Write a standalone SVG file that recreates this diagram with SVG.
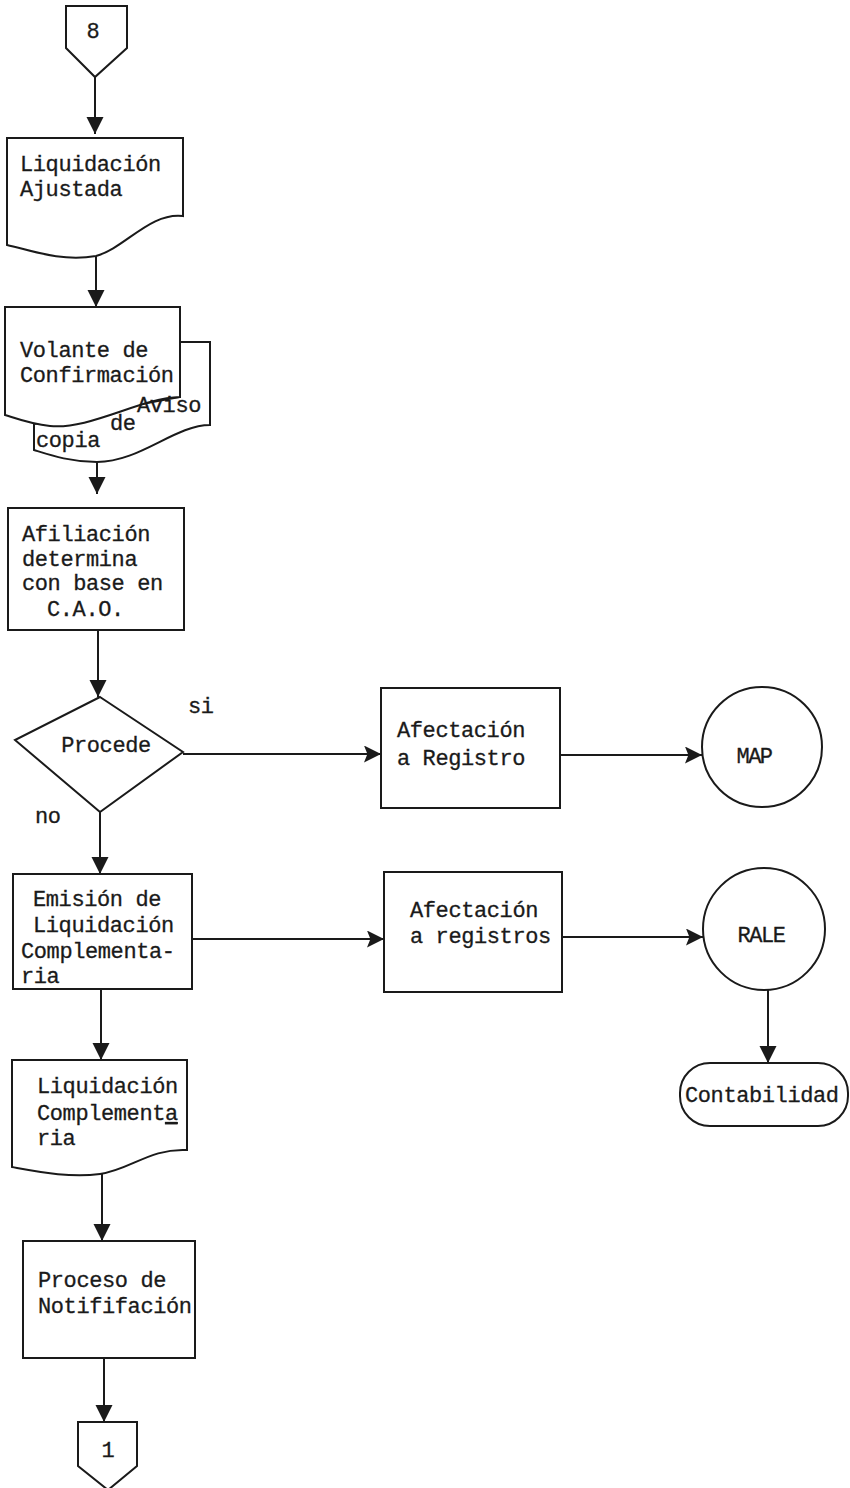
<svg xmlns="http://www.w3.org/2000/svg" width="850" height="1488" viewBox="0 0 850 1488">
<defs>
<style>
.s{fill:#fff;stroke:#1a1a1a;stroke-width:2}
.c{fill:none;stroke:#1a1a1a;stroke-width:2}
text{font-family:"Liberation Mono","DejaVu Sans Mono",monospace;font-size:22px;letter-spacing:-0.4px;fill:#1a1a1a;stroke:#1a1a1a;stroke-width:0.3}
.m{text-anchor:middle}
.k{letter-spacing:-1.5px}
</style>
<marker id="ah" viewBox="0 0 10 10" refX="10" refY="5" markerWidth="17" markerHeight="20" markerUnits="userSpaceOnUse" orient="auto">
<path d="M0,0 L10,5 L0,10 z" fill="#1a1a1a"/>
</marker>
<marker id="ahh" viewBox="0 0 10 10" refX="10" refY="5" markerWidth="18" markerHeight="17" markerUnits="userSpaceOnUse" orient="auto">
<path d="M0,0 L10,5 L0,10 L2,5 z" fill="#1a1a1a"/>
</marker>
</defs>
<rect width="850" height="1488" fill="#fff"/>
<g id="connectors">
<line class="c" x1="95" y1="77" x2="95" y2="134" marker-end="url(#ah)"/>
<line class="c" x1="96" y1="256" x2="96" y2="307" marker-end="url(#ah)"/>
<line class="c" x1="97" y1="462" x2="97" y2="494" marker-end="url(#ah)"/>
<line class="c" x1="98" y1="630" x2="98" y2="697" marker-end="url(#ah)"/>
<line class="c" x1="100" y1="812" x2="100" y2="874" marker-end="url(#ah)"/>
<line class="c" x1="183" y1="754" x2="381" y2="754" marker-end="url(#ahh)"/>
<line class="c" x1="560" y1="755" x2="702" y2="755" marker-end="url(#ahh)"/>
<line class="c" x1="192" y1="939" x2="384" y2="939" marker-end="url(#ahh)"/>
<line class="c" x1="562" y1="937" x2="703" y2="937" marker-end="url(#ahh)"/>
<line class="c" x1="768" y1="990" x2="768" y2="1063" marker-end="url(#ah)"/>
<line class="c" x1="101" y1="989" x2="101" y2="1060" marker-end="url(#ah)"/>
<line class="c" x1="102" y1="1172" x2="102" y2="1241" marker-end="url(#ah)"/>
<line class="c" x1="104" y1="1358" x2="104" y2="1422" marker-end="url(#ah)"/>
</g>
<g id="conn8">
<path class="s" d="M66,6 H127 V48 L95,77 L66,48 Z"/>
<text x="93" y="38" class="m">8</text>
</g>
<g id="liqAjustada">
<path class="s" d="M7,138 H183 V216 C150,212 125,248 96,256 C60,262 30,250 7,245 Z"/>
<text x="20" y="171">Liquidación</text>
<text x="20" y="196">Ajustada</text>
</g>
<g id="volante">
<path class="s" d="M180,342 H210 V425 C175,425 140,462 97,462 C70,462 50,455 34,450 V424 L180,397 Z"/>
<path class="s" d="M5,307 H180 V397 C140,398 90,430 50,426 C30,424 15,418 5,415 Z"/>
<text x="20" y="357">Volante de</text>
<text x="20" y="382">Confirmación</text>
<text x="137" y="412">Aviso</text>
<text x="110" y="430">de</text>
<text x="36" y="447">copia</text>
</g>
<g id="afiliacion">
<rect class="s" x="8" y="508" width="176" height="122"/>
<text x="22" y="541">Afiliación</text>
<text x="22" y="566">determina</text>
<text x="22" y="590">con base en</text>
<text x="47" y="616">C.A.O.</text>
</g>
<g id="procede">
<path class="s" d="M100,697 L183,752 L100,812 L15,740 Z"/>
<text x="106" y="752" class="m">Procede</text>
<text x="188" y="713">si</text>
<text x="35" y="823">no</text>
</g>
<g id="afectRegistro">
<rect class="s" x="381" y="688" width="179" height="120"/>
<text x="397" y="737">Afectación</text>
<text x="397" y="765">a Registro</text>
</g>
<g id="map">
<circle class="s" cx="762" cy="747" r="60"/>
<text x="754" y="763" class="m k">MAP</text>
</g>
<g id="emision">
<rect class="s" x="13" y="874" width="179" height="115"/>
<text x="33" y="906">Emisión de</text>
<text x="33" y="932">Liquidación</text>
<text x="21" y="958">Complementa-</text>
<text x="21" y="983">ria</text>
</g>
<g id="afectRegistros">
<rect class="s" x="384" y="872" width="178" height="120"/>
<text x="410" y="917">Afectación</text>
<text x="410" y="943">a registros</text>
</g>
<g id="rale">
<circle class="s" cx="764" cy="929" r="61"/>
<text x="761" y="942" class="m k">RALE</text>
</g>
<g id="contabilidad">
<rect class="s" x="680" y="1063" width="168" height="63" rx="30" ry="30"/>
<text x="685" y="1102">Contabilidad</text>
</g>
<g id="liqComplementaria">
<path class="s" d="M12,1060 H187 V1150 C150,1148 130,1170 100,1174 C70,1178 40,1172 12,1167 Z"/>
<text x="37" y="1093">Liquidación</text>
<text x="37" y="1120">Complement<tspan text-decoration="underline">a</tspan></text>
<text x="37" y="1145">ria</text>
</g>
<g id="notificacion">
<rect class="s" x="23" y="1241" width="172" height="117"/>
<text x="38" y="1287">Proceso de</text>
<text x="38" y="1313">Notififación</text>
</g>
<g id="conn1">
<path class="s" d="M78,1422 H137 V1466 L108,1490 L78,1466 Z"/>
<text x="108" y="1457" class="m">1</text>
</g>
</svg>
